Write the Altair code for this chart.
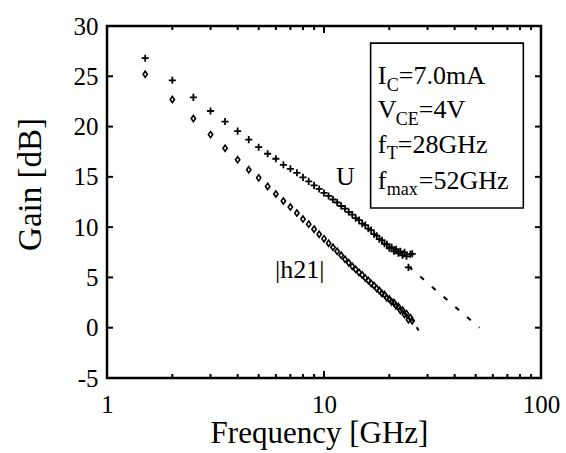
import altair as alt
import pandas as pd

FONT = "Liberation Serif"

# ---- data ----
freq = [1.5, 2.0, 2.5, 3.0, 3.5, 4.0, 4.5, 5.0, 5.5, 6.0, 6.5, 7.0, 7.5, 8.0, 8.5,
        9.0, 9.5, 10.0, 10.5, 11.0, 11.5, 12.0, 12.5, 13.0, 13.5, 14.0, 14.5, 15.0,
        15.5, 16.0, 16.5, 17.0, 17.5, 18.0, 18.5, 19.0, 19.5, 20.0, 20.5, 21.0, 21.5,
        22.0, 22.5, 23.0, 23.5, 24.0, 24.5, 25.0, 25.5]

gain_u = [26.8, 24.6, 22.9, 21.55, 20.5, 19.55, 18.7, 17.95, 17.3, 16.8, 16.2, 15.8,
          15.4, 14.95, 14.55, 14.15, 13.8, 13.4, 13.1, 12.75, 12.45, 12.1, 11.85, 11.5,
          11.25, 10.9, 10.7, 10.35, 10.2, 9.85, 9.7, 9.3, 9.15, 8.8, 8.7, 8.35, 8.3,
          7.9, 8.0, 7.6, 7.8, 7.4, 7.6, 7.2, 7.5, 7.1, 6.0, 7.3, 7.35]

gain_h21 = [25.2, 22.7, 20.8, 19.2, 17.85, 16.7, 15.7, 14.9, 14.05, 13.3, 12.6, 12.0,
            11.4, 10.8, 10.3, 9.8, 9.3, 8.85, 8.4, 8.0, 7.6, 7.2, 6.8, 6.45, 6.1, 5.8,
            5.5, 5.25, 4.95, 4.7, 4.4, 4.2, 3.9, 3.7, 3.4, 3.3, 2.95, 2.85, 2.55, 2.5,
            2.15, 2.1, 1.7, 1.75, 1.3, 1.4, 0.8, 1.0, 0.7]

# extrapolation lines (dashed)
u_ext_f = [24.5, 52.0]
u_ext_g = [6.1, 0.0]
h_ext_f = [25.2, 27.6]
h_ext_g = [1.0, -0.45]

x_minor = [2, 3, 4, 5, 6, 7, 8, 9, 20, 30, 40, 50, 60, 70, 80, 90]
x_major = [10]
y_ticks = [0, 5, 10, 15, 20, 25]
x_labels = [1, 10, 100]
y_labels = [-5, 0, 5, 10, 15, 20, 25, 30]
x_domain = [1, 100]
y_domain = [-5, 30]

W, H = 434, 352

xscale = alt.Scale(type="log", domain=x_domain, nice=False)
yscale = alt.Scale(domain=y_domain, nice=False, zero=False)

xaxis = alt.Axis(values=x_labels, format="d", ticks=False, domain=False, grid=False,
                 labelFont=FONT, labelFontSize=25, labelColor="black",
                 labelPadding=34, labelBaseline="alphabetic", labelFlush=False,
                 labelOverlap=False,
                 title="Frequency [GHz]", titleFont=FONT, titleFontSize=31,
                 titleFontWeight="normal", titleColor="black",
                 titleBaseline="alphabetic", titleY=64, titleX=212)
yaxis = alt.Axis(values=y_labels, ticks=False, domain=False, grid=False,
                 labelExpr="replace(datum.label, '\u2212', '-')",
                 labelFont=FONT, labelFontSize=25, labelColor="black",
                 labelPadding=9, labelOverlap=False, labelFlush=False,
                 title="Gain [dB]", titleFont=FONT, titleFontSize=33,
                 titleFontWeight="normal", titleColor="black",
                 titleBaseline="alphabetic", titleX=-67, titleY=158, titleAngle=-90)

X = alt.X("f:Q", scale=xscale, axis=xaxis)
Y = alt.Y("g:Q", scale=yscale, axis=yaxis)

df_u = pd.DataFrame({"f": freq, "g": gain_u})
df_h = pd.DataFrame({"f": freq, "g": gain_h21})

PLUS = "M-1,0L1,0M0,-1L0,1"
DIAM = "M0,-1L0.7,0L0,1L-0.7,0Z"

u_pts = alt.Chart(df_u).mark_point(shape=PLUS, filled=False, size=50,
                                   color="black", strokeWidth=1.8,
                                   opacity=1).encode(x=X, y=Y)
h_pts = alt.Chart(df_h).mark_point(shape=DIAM, filled=False, size=38,
                                   color="black", strokeWidth=1.6,
                                   opacity=1).encode(x=X, y=Y)

u_ext = alt.Chart(pd.DataFrame({"f": u_ext_f, "g": u_ext_g})).mark_line(
    color="black", strokeWidth=2, strokeDash=[5, 10.5]).encode(x=X, y=Y)
h_ext = alt.Chart(pd.DataFrame({"f": h_ext_f, "g": h_ext_g})).mark_line(
    color="black", strokeWidth=2, strokeDash=[4, 7]).encode(x=X, y=Y)

# frame of the plot area
frame = alt.Chart(pd.DataFrame({"f": [x_domain[0]], "f2": [x_domain[1]],
                                "g": [y_domain[0]], "g2": [y_domain[1]]})).mark_rect(
    fill="white", fillOpacity=0, stroke="black", strokeWidth=2.5,
    strokeOpacity=1).encode(x=X, x2="f2:Q", y=Y, y2="g2:Q")

# inward ticks on all four sides
def xt(vals, y0, y1):
    return alt.Chart(pd.DataFrame({"f": vals})).mark_rule(
        color="black", strokeWidth=2).encode(x=X, y=alt.value(y0), y2=alt.value(y1))

def yt(vals, x0, x1):
    return alt.Chart(pd.DataFrame({"g": vals})).mark_rule(
        color="black", strokeWidth=2).encode(y=Y, x=alt.value(x0), x2=alt.value(x1))

ticks = [xt(x_minor, H, H - 4), xt(x_major, H, H - 7),
         xt(x_minor, 0, 4), xt(x_major, 0, 7),
         yt(y_ticks, 0, 6), yt(y_ticks, W, W - 6)]

# info box
box = alt.Chart(pd.DataFrame({"f": [16.4], "f2": [82.9], "g": [28.3], "g2": [11.9]})).mark_rect(
    fill="white", stroke="black", strokeWidth=1.6).encode(
    x=X, x2="f2:Q", y=Y, y2="g2:Q")

def txt(t, f, g, size, dx=0, dy=0):
    return alt.Chart(pd.DataFrame({"f": [f], "g": [g], "t": [t]})).mark_text(
        font=FONT, fontSize=size, align="left", baseline="alphabetic",
        color="black", dx=dx, dy=dy).encode(x=X, y=Y, text="t:N")

BX = 17.7
lines = [
    txt("I", BX, 24.2, 26), txt("C", BX, 24.2, 18, dx=9, dy=7), txt("=7.0mA", BX, 24.2, 26, dx=21),
    txt("V", BX, 20.9, 26), txt("CE", BX, 20.9, 18, dx=18, dy=7), txt("=4V", BX, 20.9, 26, dx=41),
    txt("f", BX, 17.4, 26), txt("T", BX, 17.4, 18, dx=9, dy=6), txt("=28GHz", BX, 17.4, 26, dx=20),
    txt("f", BX, 13.8, 26), txt("max", BX, 13.8, 18, dx=9, dy=6), txt("=52GHz", BX, 13.8, 26, dx=41),
    txt("U", 11.36, 14.2, 26),
    txt("|h21|", 5.95, 4.95, 26),
]

chart = alt.layer(box, *ticks, u_ext, h_ext, h_pts, u_pts, frame, *lines).properties(
    width=W, height=H,
    background="white",
    autosize=alt.AutoSizeParams(type="none"),
    padding={"left": 107, "top": 26, "right": 25, "bottom": 75},
).configure_view(strokeWidth=0, stroke="white")

chart.save("out.html", embed_options={"renderer": "svg", "actions": False})
